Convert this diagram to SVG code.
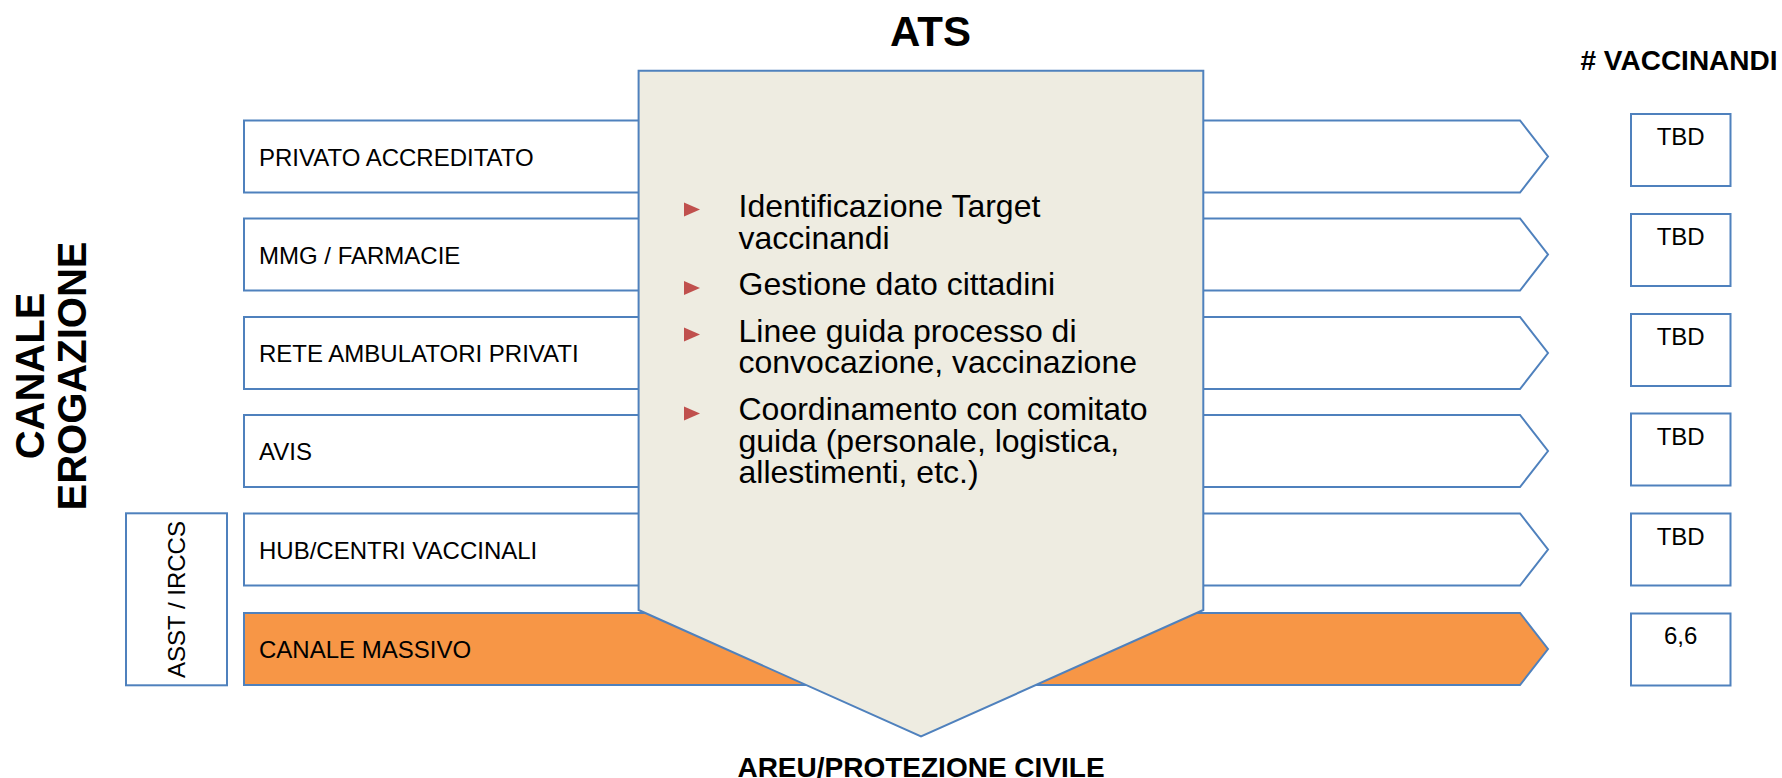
<svg xmlns="http://www.w3.org/2000/svg" width="1782" height="778" viewBox="0 0 1782 778">
<style>
text{font-family:"Liberation Sans",Arial,sans-serif;fill:#000}
.t{font-size:24px}
.b{font-weight:bold}
.arr{fill:#fff;stroke:#4F81BD;stroke-width:2}
.org{fill:#F79646;stroke:#4F81BD;stroke-width:2}
.box{fill:#fff;stroke:#4F81BD;stroke-width:2}
.chev{fill:#EEECE1;stroke:#4F81BD;stroke-width:2}
.bul{fill:#C0504D}
.bt{font-size:32px}
.c{text-anchor:middle}
</style>
<rect width="1782" height="778" fill="#fff"/>
<text class="b c" x="930.5" y="46" font-size="42">ATS</text>
<text class="b" x="1580.5" y="70" font-size="28">#&#160;VACCINANDI</text>
<text class="b c" x="921" y="777" font-size="28">AREU/PROTEZIONE CIVILE</text>
<g id="canale-erogazione">
<text class="b c" font-size="40" transform="translate(44,376) rotate(-90)">CANALE</text>
<text class="b c" font-size="40" transform="translate(86,376) rotate(-90)">EROGAZIONE</text>
</g>
<g id="asst-irccs">
<rect class="box" x="126" y="513.3" width="101" height="172"/>
<text class="t c" transform="translate(185.3,599.5) rotate(-90)">ASST / IRCCS</text>
</g>
<g id="row-privato">
<path class="arr" d="M244,120.5H1520L1548,156.5L1520,192.5H244Z"/>
<text class="t" x="259" y="165.8">PRIVATO ACCREDITATO</text>
</g>
<g id="row-mmg">
<path class="arr" d="M244,218.5H1520L1548,254.5L1520,290.5H244Z"/>
<text class="t" x="259" y="263.8">MMG / FARMACIE</text>
</g>
<g id="row-rete">
<path class="arr" d="M244,317H1520L1548,353L1520,389H244Z"/>
<text class="t" x="259" y="362.3">RETE AMBULATORI PRIVATI</text>
</g>
<g id="row-avis">
<path class="arr" d="M244,415H1520L1548,451L1520,487H244Z"/>
<text class="t" x="259" y="460.3">AVIS</text>
</g>
<g id="row-hub">
<path class="arr" d="M244,513.5H1520L1548,549.5L1520,585.5H244Z"/>
<text class="t" x="259" y="558.8">HUB/CENTRI VACCINALI</text>
</g>
<g id="row-massivo">
<path class="org" d="M244,613H1520L1548,649L1520,685H244Z"/>
<text class="t" x="259" y="658.3">CANALE MASSIVO</text>
</g>
<g id="ats">
<path class="chev" d="M638.6,70.7H1203.3V610L921,736.5L638.6,610Z"/>
<polygon class="bul" points="684,202.5 700,209.5 684,216.5"/>
<text class="bt" x="738.5" y="216.5">Identificazione Target</text>
<text class="bt" x="738.5" y="248.5">vaccinandi</text>
<polygon class="bul" points="684,281 700,288 684,295"/>
<text class="bt" x="738.5" y="295">Gestione dato cittadini</text>
<polygon class="bul" points="684,327.5 700,334.5 684,341.5"/>
<text class="bt" x="738.5" y="341.5">Linee guida processo di</text>
<text class="bt" x="738.5" y="373">convocazione, vaccinazione</text>
<polygon class="bul" points="684,406.5 700,413.5 684,420.5"/>
<text class="bt" x="738.5" y="420">Coordinamento con comitato</text>
<text class="bt" x="738.5" y="451.5">guida (personale, logistica,</text>
<text class="bt" x="738.5" y="483">allestimenti, etc.)</text>
</g>
<g id="vacc-1"><rect class="box" x="1631" y="114" width="99.5" height="72"/><text class="t c" x="1680.7" y="145">TBD</text></g>
<g id="vacc-2"><rect class="box" x="1631" y="214" width="99.5" height="72"/><text class="t c" x="1680.7" y="245">TBD</text></g>
<g id="vacc-3"><rect class="box" x="1631" y="314" width="99.5" height="72"/><text class="t c" x="1680.7" y="345">TBD</text></g>
<g id="vacc-4"><rect class="box" x="1631" y="413.5" width="99.5" height="72"/><text class="t c" x="1680.7" y="444.5">TBD</text></g>
<g id="vacc-5"><rect class="box" x="1631" y="513.5" width="99.5" height="72"/><text class="t c" x="1680.7" y="544.5">TBD</text></g>
<g id="vacc-6"><rect class="box" x="1631" y="613.5" width="99.5" height="72"/><text class="t c" x="1680.7" y="643.5">6,6</text></g>
</svg>
